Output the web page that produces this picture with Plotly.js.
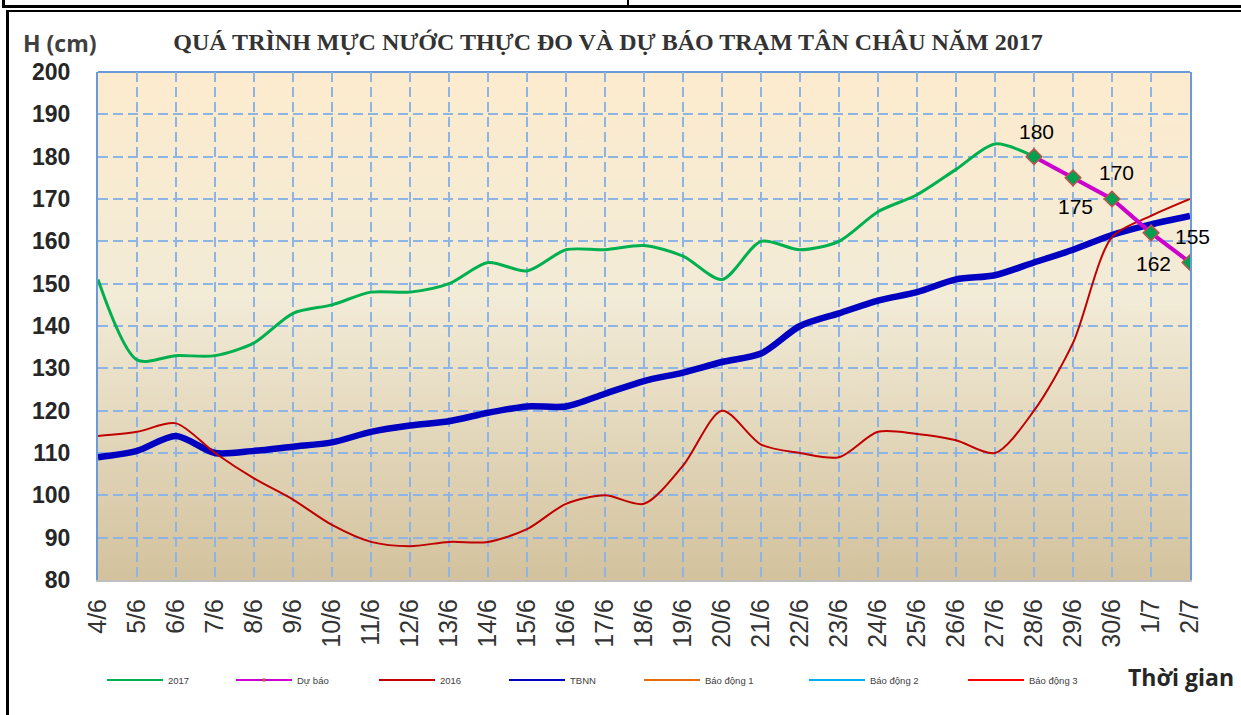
<!DOCTYPE html>
<html><head><meta charset="utf-8">
<script src="https://cdn.plot.ly/plotly-3.0.1.min.js"></script>
<style>
html,body{margin:0;padding:0;background:#fff;}
#wrap{position:relative;width:1241px;height:715px;overflow:hidden;}
#chart{position:absolute;left:0;top:0;width:1241px;height:715px;}
.fr{position:absolute;background:#000;pointer-events:none;}
</style></head><body>
<div id="wrap"><div id="chart"></div>
<div class="fr" style="left:2px;top:5px;width:1239px;height:3px"></div>
<div class="fr" style="left:2px;top:0;width:3px;height:8px"></div>
<div class="fr" style="left:627px;top:0;width:2px;height:6px"></div>
<div class="fr" style="left:6px;top:10px;width:1235px;height:2px"></div>
<div class="fr" style="left:6px;top:10px;width:3px;height:705px"></div>
</div>
<script>
// ---- data ----
const categories = ['4/6','5/6','6/6','7/6','8/6','9/6','10/6','11/6','12/6','13/6','14/6','15/6','16/6','17/6','18/6','19/6','20/6','21/6','22/6','23/6','24/6','25/6','26/6','27/6','28/6','29/6','30/6','1/7','2/7'];
const h2017 = [151,132,133,133,136,143,145,148,148,150,155,153,158,158,159,156.5,151,160,158,160,167,171,177,183,180,null,null,null,null];
const duBao = [null,null,null,null,null,null,null,null,null,null,null,null,null,null,null,null,null,null,null,null,null,null,null,null,180,175,170,162,155];
const h2016 = [114,115,117,110,104,99,93,89,88,89,89,92,98,100,98,107,120,112,110,109,115,114.5,113,110,120,136,161,166,170];
const tbnn = [109,110.5,114,110,110.5,111.5,112.5,115,116.5,117.5,119.5,121,121,124,127,129,131.5,133.5,140,143,146,148,151,152,155,158,161.5,164,166];
const alertNames = ['Báo động 1','Báo động 2','Báo động 3'];
const alertLevels = [350,400,450];
const legendNames = ['2017','Dự báo','2016','TBNN','Báo động 1','Báo động 2','Báo động 3'];

// ---- style ----
const colors = {g:'#00B050', m:'#CC00CC', r:'#C00000', b:'#0000C0', a:['#E46C0A','#00B0F0','#FF0000']};
const legendColors = ['#00B050','#CC00CC','#C00000','#0000C0','#E46C0A','#00B0F0','#FF0000'];
const legendTextPx = [168,297,440,570,705,870,1029];
const labelShift = [[2,25],[2,-29],[4,27],[2,-31],[2,26]];
const LEG_ITEM_W = 56;

const PL = 98, PR = 1190, PT = 72, PB = 580;
const W = PR - PL, H = PB - PT;
const px2x = p => (p - PL) / W;
const py2y = p => (PB - p) / H;

function gradientURI(){
  const c = document.createElement('canvas'); c.width = 8; c.height = 512;
  const g = c.getContext('2d');
  const gr = g.createLinearGradient(0,0,0,512);
  gr.addColorStop(0,'#FDEBCE'); gr.addColorStop(0.45,'#F2EBD7'); gr.addColorStop(1,'#D3C29D');
  g.fillStyle = gr; g.fillRect(0,0,8,512);
  return c.toDataURL();
}

const traces = [
  {x:categories, y:tbnn, name:'TBNN', mode:'lines', line:{color:colors.b, width:6.5, shape:'spline', smoothing:0.8}, showlegend:false},
  {x:categories, y:h2016, name:'2016', mode:'lines', line:{color:colors.r, width:2, shape:'spline', smoothing:0.8}, showlegend:false},
  {x:categories, y:h2017, name:'2017', mode:'lines', line:{color:colors.g, width:3, shape:'spline', smoothing:0.8}, showlegend:false},
  {x:categories, y:duBao, name:'Dự báo', mode:'lines+markers', line:{color:colors.m, width:4}, marker:{symbol:'diamond', size:12, color:'#00A050', line:{color:'#C0504D', width:1.5}}, showlegend:false}
];
alertNames.forEach((n,i)=>{
  traces.push({x:[categories[0], categories[categories.length-1]], y:[alertLevels[i], alertLevels[i]], name:n, mode:'lines', line:{color:colors.a[i], width:2}, showlegend:false});
});
// legend entries (thin samples like the original)
legendNames.forEach((n,i)=>{
  const t = {x:[categories[0]], y:[null], name:n, mode:'lines', line:{color:legendColors[i], width:2}, legend: i===0 ? 'legend' : 'legend'+(i+1), showlegend:true};
  if (i === 1) { t.mode = 'lines+markers'; t.marker = {symbol:'square', size:3, color:'#C0504D'}; }
  traces.push(t);
});

const annotations = [
  {text:'H (cm)', xref:'paper', yref:'paper', x:px2x(21), y:py2y(43), xanchor:'left', yanchor:'middle', showarrow:false, font:{family:'Open Sans', size:23, color:'#404040', weight:'bold'}},
  {text:'Thời gian', xref:'paper', yref:'paper', x:px2x(1236), y:py2y(677), xanchor:'right', yanchor:'middle', showarrow:false, font:{family:'Open Sans', size:23, color:'#262626', weight:'bold'}}
];
duBao.forEach((v,i)=>{
  if (v === null) return;
  const k = annotations.length - 2;
  annotations.push({x:categories[i], y:v, xref:'x', yref:'y', text:String(v), showarrow:false, xshift:labelShift[k][0], yshift:labelShift[k][1], font:{family:'Arial', size:21, color:'#000'}});
});

const legFont = {family:'Arial', size:9.5, color:'#404040'};
const layout = {
  width:1241, height:715,
  margin:{l:PL, r:1241-PR, t:PT, b:715-PB},
  paper_bgcolor:'#ffffff', plot_bgcolor:'rgba(0,0,0,0)',
  title:{text:'QUÁ TRÌNH MỰC NƯỚC THỰC ĐO VÀ DỰ BÁO TRẠM TÂN CHÂU NĂM 2017', font:{family:'Liberation Serif', size:24, color:'#333333', weight:'bold'}, xref:'container', yref:'container', x:608/1241, xanchor:'center', y:1-42/715, yanchor:'middle'},
  xaxis:{type:'category', categoryorder:'array', categoryarray:categories, range:[0, categories.length-1], tickangle:-90, tickfont:{family:'Arial', size:25, color:'#333333'}, showgrid:true, gridcolor:'#8DB4E2', gridwidth:2, griddash:'10px,5px', showline:true, linecolor:'#BFBFBF', linewidth:2, ticks:'', zeroline:false, ticklabelstandoff:7, fixedrange:true},
  yaxis:{range:[80,200], dtick:10, tickfont:{family:'Arial', size:23, color:'#262626', weight:'bold'}, showgrid:true, gridcolor:'#8DB4E2', gridwidth:2, griddash:'10px,5px', showline:true, mirror:true, linecolor:'#6A9BD8', linewidth:2, ticks:'', zeroline:false, ticklabelstandoff:21, fixedrange:true},
  images:[{source:gradientURI(), xref:'paper', yref:'paper', x:0, y:1, sizex:1, sizey:1, sizing:'stretch', xanchor:'left', yanchor:'top', layer:'below'}],
  shapes:[{type:'line', xref:'paper', yref:'paper', x0:0, x1:1, y0:1, y1:1, line:{color:'#6A9BD8', width:2}, layer:'below'}],
  annotations:annotations,
  showlegend:true
};
['legend','legend2','legend3','legend4','legend5','legend6','legend7'].forEach((ln,i)=>{
  layout[ln] = {orientation:'h', itemwidth:LEG_ITEM_W, x:px2x(legendTextPx[i]-LEG_ITEM_W-10), xanchor:'left', y:py2y(680), yanchor:'middle', font:legFont, bgcolor:'rgba(0,0,0,0)', borderwidth:0};
});

Plotly.newPlot('chart', traces, layout, {staticPlot:true, displayModeBar:false});
</script>
</body></html>
